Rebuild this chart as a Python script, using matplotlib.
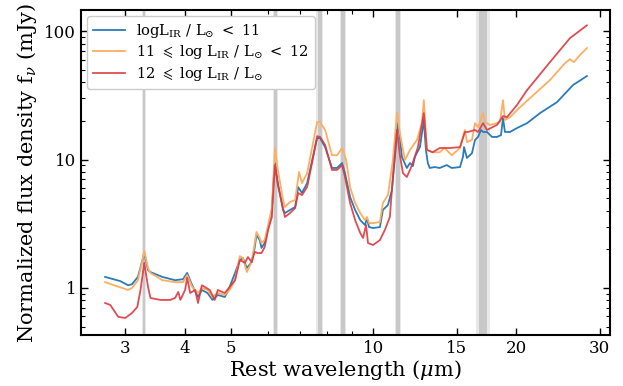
import matplotlib
matplotlib.use('Agg')
import matplotlib.pyplot as plt
from matplotlib.ticker import ScalarFormatter, NullFormatter, FixedLocator, LogLocator
import numpy as np

plt.rcParams['font.family'] = 'DejaVu Serif'
plt.rcParams['mathtext.fontset'] = 'dejavuserif'

# median spectra (rest wavelength in um, flux in mJy)
wl_low = [2.72, 2.93, 3.04, 3.10, 3.19, 3.24, 3.29, 3.35, 3.39, 3.59, 3.82, 3.97, 4.05, 4.15,
          4.27, 4.35, 4.47, 4.58, 4.70, 4.86, 4.93, 5.11, 5.23, 5.31, 5.41, 5.54, 5.62, 5.67,
          5.76, 5.81, 5.90, 6.00, 6.11, 6.17, 6.20, 6.29, 6.45, 6.51, 6.67, 6.84, 6.94, 7.07,
          7.25, 7.43, 7.61, 7.72, 7.91, 8.18, 8.38, 8.59, 8.71, 8.93, 9.15, 9.38, 9.60, 9.69,
          9.79, 9.98, 10.32, 10.47, 10.73, 10.94, 11.10, 11.26, 11.37, 11.48, 11.76, 11.94,
          12.11, 12.23, 12.53, 12.77, 12.90, 13.02, 13.14, 13.46, 13.79, 14.27, 14.62, 15.22,
          15.44, 15.52, 15.74, 16.13, 16.37, 16.61, 16.85, 17.02, 17.35, 17.78, 18.21, 18.57,
          18.75, 18.93, 19.40, 20.07, 21.07, 22.44, 24.37, 26.33, 28.17]
f_low = [1.22, 1.13, 1.05, 1.07, 1.22, 1.51, 1.87, 1.38, 1.33, 1.22, 1.15, 1.17, 1.31, 1.05,
         0.851, 0.965, 0.914, 0.807, 0.882, 0.851, 0.931, 1.31, 1.65, 1.71, 1.43, 1.59, 2.05, 2.59,
         2.36, 2.05, 2.24, 2.98, 4.05, 7.57, 9.4, 6.56, 4.05, 3.83, 4.05, 4.27, 6.11, 5.49,
         6.56, 9.9, 14.7, 14.7, 12.5, 8.6, 8.6, 9.4, 7.85, 5.11, 4.05, 3.38, 3.09, 3.50,
         2.98, 2.93, 2.98, 4.05, 4.43, 5.79, 10.5, 19.2, 15.0, 10.5, 8.6, 9.4,
         8.9, 10.5, 12.5, 20.3, 11.9, 9.4, 8.6, 8.74, 8.6, 9.06, 8.6, 8.74,
         10.5, 12.5, 10.3, 11.2, 14.2, 15.0, 17.0, 16.4, 16.4, 15.0, 15.0, 15.5,
         21.0, 16.4, 16.4, 17.6, 19.2, 23.0, 28.0, 38.0, 44.7]

wl_mid = [2.72, 3.04, 3.10, 3.19, 3.24, 3.29, 3.35, 3.39, 3.59, 3.82, 3.97, 4.05, 4.15, 4.27,
          4.35, 4.47, 4.58, 4.70, 4.86, 4.98, 5.11, 5.23, 5.31, 5.41, 5.54, 5.67, 5.76, 5.81,
          5.90, 6.00, 6.11, 6.17, 6.20, 6.29, 6.45, 6.51, 6.67, 6.84, 6.97, 7.07, 7.25, 7.43,
          7.61, 7.72, 7.91, 8.18, 8.38, 8.59, 8.76, 8.93, 9.15, 9.38, 9.60, 9.69, 9.79, 9.98,
          10.32, 10.47, 10.73, 10.99, 11.21, 11.37, 11.65, 11.94, 12.35, 12.65, 12.77, 12.96,
          13.33, 13.79, 14.13, 14.62, 15.22, 15.44, 15.59, 15.74, 16.13, 16.37, 16.61, 17.02,
          17.18, 17.60, 18.21, 18.48, 18.75, 18.93, 19.40, 20.37, 21.38, 23.55, 25.33, 25.95,
          26.45, 27.23, 28.17]
f_mid = [1.11, 0.965, 1.00, 1.15, 1.48, 1.94, 1.43, 1.31, 1.15, 1.11, 1.11, 1.26, 1.02, 0.914,
         1.00, 0.965, 0.851, 0.914, 0.882, 0.965, 1.15, 1.77, 1.71, 1.33, 1.59, 2.73, 2.45, 2.24,
         2.36, 3.09, 4.19, 8.3, 12.3, 8.3, 4.84, 4.27, 4.67, 4.84, 8.0, 6.56, 7.85, 12.5,
         19.6, 19.6, 17.0, 10.8, 10.8, 12.3, 9.9, 6.11, 4.59, 3.83, 3.38, 3.57, 3.20, 3.20,
         3.26, 4.59, 5.29, 9.9, 23.0, 16.1, 9.9, 11.9, 14.2, 19.2, 29.0, 11.9,
         11.4, 11.4, 12.3, 10.8, 12.3, 15.0, 17.0, 13.7, 14.2, 19.2, 17.9, 23.0,
         19.6, 18.6, 19.2, 19.6, 29.0, 20.3, 21.4, 25.6, 30.1, 41.6, 56.3, 60.5,
         57.4, 65.0, 73.8]

wl_high = [2.72, 2.79, 2.90, 3.00, 3.10, 3.18, 3.23, 3.29, 3.35, 3.39, 3.56, 3.73, 3.82, 3.88,
           3.92, 4.01, 4.05, 4.11, 4.21, 4.27, 4.35, 4.41, 4.52, 4.63, 4.70, 4.86, 4.98, 5.11,
           5.23, 5.36, 5.44, 5.54, 5.62, 5.70, 5.81, 5.90, 6.00, 6.11, 6.17, 6.20, 6.29, 6.51,
           6.67, 6.84, 6.94, 7.07, 7.25, 7.43, 7.61, 7.72, 7.91, 8.18, 8.38, 8.59, 8.71, 8.93,
           9.15, 9.38, 9.51, 9.65, 9.74, 9.98, 10.32, 10.57, 10.83, 10.99, 11.21, 11.37, 11.54,
           11.76, 12.06, 12.41, 12.77, 12.96, 13.33, 13.79, 14.48, 15.22, 15.59, 15.82, 16.37,
           16.61, 17.02, 17.35, 18.21, 18.75, 19.12, 20.07, 21.07, 23.55, 25.95, 28.17]
f_high = [0.764, 0.737, 0.595, 0.584, 0.639, 0.711, 0.965, 1.57, 1.02, 0.836, 0.807, 0.807, 0.836, 0.931,
          0.807, 0.965, 1.20, 0.914, 0.965, 0.764, 1.05, 1.02, 0.965, 0.807, 0.965, 0.914, 1.02, 1.15,
          1.65, 1.57, 1.74, 1.59, 1.91, 1.87, 1.87, 2.08, 2.83, 3.57, 6.93, 9.06, 6.33, 3.57,
          3.83, 4.19, 5.49, 5.29, 6.11, 9.56, 15.2, 15.0, 13.0, 8.3, 8.3, 9.06, 7.31, 4.59,
          3.38, 2.68, 2.45, 3.09, 2.24, 2.16, 2.36, 2.83, 3.57, 7.31, 17.0, 10.8, 7.85,
          7.31, 9.06, 12.5, 23.0, 11.9, 11.4, 12.3, 12.3, 12.5, 16.4, 16.4, 17.0,
          16.4, 19.2, 17.0, 18.6, 21.8, 21.4, 26.6, 34.7, 57.4, 88.2, 111.0]

# PAH feature bands (um)
band_lo = [3.25, 6.14, 7.58, 8.51, 11.10, 16.45]
band_hi = [3.31, 6.29, 7.83, 8.76, 11.42, 17.60]

labels = [r'logL$_{\rm IR}$ / L$_{\odot}$ $<$ 11',
          r'11 $\leqslant$ log L$_{\rm IR}$ / L$_{\odot}$ $<$ 12',
          r'12 $\leqslant$ log L$_{\rm IR}$ / L$_{\odot}$']
colors = ['#2b7bba', '#fdae61', '#dc3a40']

fig = plt.figure(figsize=(6.23, 3.86), dpi=100)
ax = fig.add_axes([0.130, 0.132, 0.849, 0.842])

for lo, hi in zip(band_lo, band_hi):
    w = np.log10(hi) - np.log10(lo)
    ax.axvspan(lo, hi, color='#e8e8e8', lw=0, zorder=0)
    ax.axvspan(10 ** (np.log10(lo) + 0.22 * w), 10 ** (np.log10(hi) - 0.22 * w),
               color='#c8c8c8', lw=0, zorder=0)

ax.plot(wl_low, f_low, color=colors[0], lw=1.3, label=labels[0])
ax.plot(wl_mid, f_mid, color=colors[1], lw=1.3, label=labels[1])
ax.plot(wl_high, f_high, color=colors[2], lw=1.3, alpha=0.9, label=labels[2])

ax.set_xscale('log')
ax.set_yscale('log')
ax.set_xlim(2.42, 31.5)
ax.set_ylim(0.43, 146)

ax.xaxis.set_major_locator(FixedLocator([3, 4, 5, 10, 15, 20, 30]))
ax.xaxis.set_major_formatter(ScalarFormatter())
ax.xaxis.set_minor_locator(LogLocator(base=10, subs=np.arange(2, 10)))
ax.xaxis.set_minor_formatter(NullFormatter())
ax.yaxis.set_major_formatter(ScalarFormatter())
ax.yaxis.set_minor_formatter(NullFormatter())

ax.tick_params(which='both', direction='in', top=True, right=True, labelsize=12)
ax.tick_params(which='major', length=5, width=1)
ax.tick_params(which='minor', length=3, width=0.8)
for s in ax.spines.values():
    s.set_linewidth(1.5)

ax.set_xlabel(r'Rest wavelength ($\mu$m)', fontsize=15, labelpad=1)
ax.set_ylabel(r'Normalized flux density f$_\nu$ (mJy)', fontsize=15)

ax.legend(loc='upper left', fontsize=10.5, handlelength=2.2, borderaxespad=0.4,
          framealpha=1, edgecolor='#cccccc', labelspacing=0.25)

fig.savefig('out.png', dpi=100)
